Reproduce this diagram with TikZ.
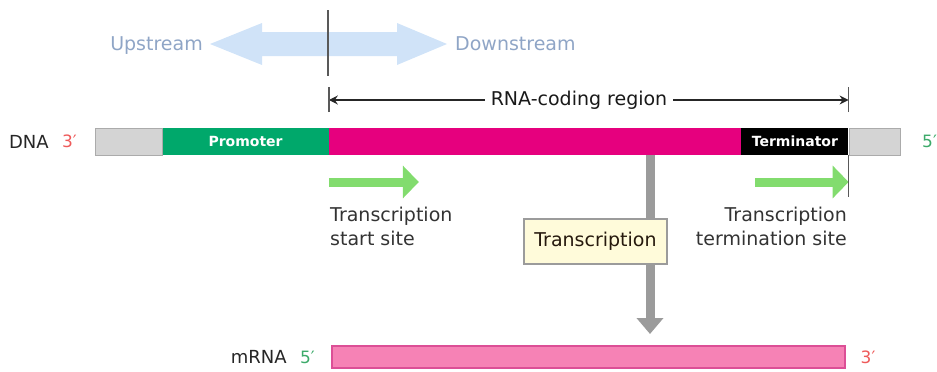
\documentclass[tikz,border=0pt]{standalone}
\usepackage{fontspec}
\setmainfont{DejaVu Sans}
\usetikzlibrary{arrows.meta,positioning}
\definecolor{dnagrey}{HTML}{D4D4D4}
\definecolor{dnaedge}{HTML}{ABABAB}
\definecolor{promgreen}{HTML}{00A86B}
\definecolor{codepink}{HTML}{E6007E}
\definecolor{skyblue}{HTML}{D0E3F8}
\definecolor{upblue}{HTML}{8FA5C6}
\definecolor{gogreen}{HTML}{82DC6E}
\definecolor{pipegrey}{HTML}{9B9B9B}
\definecolor{boxfill}{HTML}{FFFBDA}
\definecolor{mpink}{HTML}{F682B5}
\definecolor{medge}{HTML}{DC4F96}
\definecolor{primered}{HTML}{EE5A5A}
\definecolor{primegreen}{HTML}{3DAA6A}
\tikzset{
  seg/.style={rectangle,inner sep=0pt,minimum height=27pt,anchor=west},
  lbl/.style={font=\fontsize{19}{24}\selectfont,text=black!80,inner sep=0pt},
  tag/.style={font=\fontsize{14}{16}\selectfont\bfseries,text=white},
  prime/.style={font=\fontsize{17}{20}\selectfont,inner sep=0pt},
  gosign/.style={draw=gogreen,line width=9pt,-{Triangle[length=16pt,width=32pt]}},
  pipe/.style={draw=pipegrey,line width=9pt},
  tickline/.style={draw=black!65,line width=1.4pt},
  txbox/.style={rectangle,draw=pipegrey,line width=2.5pt,fill=boxfill,minimum width=143pt,minimum height=45pt,inner sep=0pt,font=\fontsize{19}{24}\selectfont,text=black!80!brown}
}
\begin{document}
\begin{tikzpicture}[x=1pt,y=-1pt]
    \useasboundingbox (0,0) rectangle (937,372);

    % upstream / downstream
    \fill [skyblue] (210,44) -- (262,23) -- (262,32) -- (397,32) -- (397,23)
        -- (447,44) -- (397,65) -- (397,56) -- (262,56) -- (262,65) -- cycle;
    \node [lbl,text=upblue,anchor=base east] (upstr) at (203,50) {Upstream};
    \node [lbl,text=upblue,anchor=base west] (downstr) at (455,50) {Downstream};
    \draw [tickline] (328,10) -- (328,76);

    % DNA strand
    \node [seg,fill=dnagrey,draw=dnaedge,minimum width=67pt] (left) at (95,141.5) {};
    \node [seg,fill=promgreen,minimum width=166pt,tag] (prom) at (left.east) {Promoter};
    \node [seg,fill=codepink,minimum width=412pt] (code) at (prom.east) {};
    \node [seg,fill=black,minimum width=107pt,tag] (term) at (code.east) {Terminator};
    \node [seg,fill=dnagrey,draw=dnaedge,minimum width=51pt] (right) at (term.east) {};
    \node [prime,text=primered,left=18pt of left] (dna3) {3′};
    \node [lbl,font=\fontsize{18}{22}\selectfont,text=black!85,left=13pt of dna3] (dna) {DNA};
    \node [prime,text=primegreen,right=22pt of right] (dna5) {5′};

    % RNA-coding region
    \coordinate (rl) at (prom.east |- 0,100);
    \coordinate (rr) at (term.east |- 0,100);
    \draw [black!85,line width=1.2pt,{Stealth[length=9pt,width=9pt]}-{Stealth[length=9pt,width=9pt]}] (rl) -- (rr);
    \draw [tickline] ([yshift=-12pt]rl) -- ([yshift=13pt]rl);
    \draw [tickline] ([yshift=-12pt]rr) -- ([yshift=13pt]rr);
    \node [lbl,text=black!90,fill=white,inner xsep=6pt,inner ysep=2pt] (rcr) at (579,100) {RNA-coding region};

    % start and stop sites
    \draw [gosign] (code.west |- 0,182) -- ++(90,0);
    \draw [gosign] (755,182) -- (term.east |- 0,182);
    \draw [tickline] (term.south east) -- ++(0,42);
    \node [lbl,align=left,anchor=north west] (start) at (330,207) {Transcription\\start site};
    \node [lbl,align=right,anchor=north east] (stop) at (847,207) {Transcription\\termination site};

    % transcription step
    \node [txbox] (tx) at (595.5,241.5) {Transcription};
    \coordinate (drop) at (650,0);
    \draw [pipe] (drop |- code.south) -- (drop |- tx.north);

    % mRNA
    \node [seg,fill=mpink,draw=medge,line width=1.5pt,minimum width=513pt,minimum height=22pt] (mrna) at (331,357) {};
    \node [prime,text=primegreen,left=16pt of mrna] (m5) {5′};
    \node [lbl,font=\fontsize{18}{22}\selectfont,text=black!85,left=13pt of m5] (mlbl) {mRNA};
    \node [prime,text=primered,right=15pt of mrna] (m3) {3′};
    \draw [pipe,-{Triangle[length=16pt,width=26pt]}] (drop |- tx.south) -- (drop |- 0,334);
\end{tikzpicture}
\end{document}
